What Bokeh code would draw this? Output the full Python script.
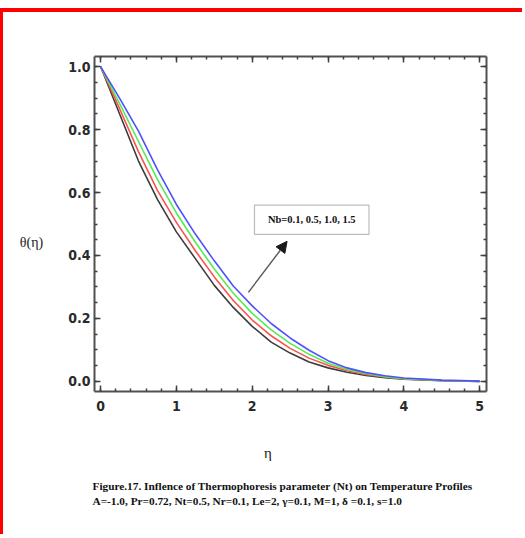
from bokeh.plotting import figure
from bokeh.models import (Range1d, SingleIntervalTicker, LinearAxis, PrintfTickFormatter,
                          CustomJSTickFormatter, Label, Arrow, NormalHead, BoxAnnotation, Title)
from bokeh.embed import file_html
from bokeh.resources import INLINE

# ---- data ----
eta = [0.0, 0.25, 0.5, 0.75, 1.0, 1.25, 1.5, 1.75, 2.0, 2.25, 2.5, 2.75, 3.0, 3.25, 3.5, 3.75, 4.0, 4.5, 5.0]
theta_nb01 = [1.0, 0.85, 0.70, 0.578, 0.475, 0.39, 0.305, 0.235, 0.175, 0.125, 0.09, 0.062, 0.043, 0.029, 0.019, 0.012, 0.007, 0.002, 0.0]
theta_nb05 = [1.0, 0.867, 0.73, 0.607, 0.505, 0.415, 0.332, 0.257, 0.195, 0.145, 0.105, 0.074, 0.051, 0.034, 0.022, 0.014, 0.008, 0.003, 0.0]
theta_nb10 = [1.0, 0.883, 0.762, 0.642, 0.535, 0.442, 0.357, 0.28, 0.216, 0.164, 0.121, 0.086, 0.058, 0.038, 0.025, 0.015, 0.009, 0.003, 0.0]
theta_nb15 = [1.0, 0.90, 0.795, 0.673, 0.562, 0.468, 0.383, 0.303, 0.24, 0.184, 0.138, 0.099, 0.066, 0.043, 0.028, 0.018, 0.011, 0.004, 0.001]
series = [theta_nb01, theta_nb05, theta_nb10, theta_nb15]
colors = ["#3c3c3c", "#ff5050", "#50ee50", "#5050ff"]

x_ticks_interval = 1
y_ticks_interval = 0.2
xlabel = "η"
ylabel = "θ(η)"
annot = "Nb=0.1, 0.5, 1.0, 1.5"
cap1 = "Figure.17. Inflence  of Thermophoresis parameter (Nt) on Temperature Profiles"
cap2 = "A=-1.0, Pr=0.72, Nt=0.5, Nr=0.1, Le=2, γ=0.1, M=1, δ =0.1, s=1.0"

TICKFONT = "DejaVu Sans Condensed"
SERIF = "Liberation Serif"

p = figure(width=522, height=526, output_backend="svg", toolbar_location=None,
           x_range=Range1d(-0.08, 5.09), y_range=Range1d(-0.032, 1.032),
           x_axis_location=None, y_axis_location=None,
           min_border_left=91, min_border_right=39, min_border_top=44, min_border_bottom=147)
p.styles = {"border-top": "4px solid red", "border-left": "3px solid red", "margin-top": "8px"}
p.grid.visible = False
p.outline_line_color = None
p.background_fill_color = "white"
p.border_fill_color = "white"

def style(ax, labels):
    ax.axis_line_color = "#505050"
    ax.axis_line_width = 2
    ax.major_tick_in = 6
    ax.major_tick_out = 0
    ax.minor_tick_in = 3
    ax.minor_tick_out = 0
    ax.major_tick_line_color = "#404040"
    ax.minor_tick_line_color = "#404040"
    ax.major_tick_line_width = 1.5
    ax.minor_tick_line_width = 1.5
    ax.major_label_text_font = TICKFONT
    ax.major_label_text_font_style = "bold"
    ax.major_label_text_font_size = "14px"
    ax.major_label_text_color = "#2a2a2a"
    if not labels:
        ax.formatter = CustomJSTickFormatter(code="return ''")

NBSP = "\u00a0"
xb = LinearAxis(ticker=SingleIntervalTicker(interval=x_ticks_interval, num_minor_ticks=5),
                formatter=PrintfTickFormatter(format="%d"), major_label_standoff=9,
                axis_label=xlabel + NBSP * 12, axis_label_standoff=31, axis_label_text_font=SERIF,
                axis_label_text_font_style="normal", axis_label_text_font_size="15px",
                axis_label_text_color="#222")
style(xb, True)
p.add_layout(xb, "below")
xt = LinearAxis(ticker=SingleIntervalTicker(interval=x_ticks_interval, num_minor_ticks=5))
style(xt, False)
p.add_layout(xt, "above")
yl = LinearAxis(ticker=SingleIntervalTicker(interval=y_ticks_interval, num_minor_ticks=4),
                formatter=PrintfTickFormatter(format="%.1f"), major_label_standoff=4,
                axis_label="\n\n" + ylabel, axis_label_orientation="horizontal", axis_label_standoff=22,
                axis_label_text_font=SERIF, axis_label_text_font_style="normal",
                axis_label_text_font_size="14px", axis_label_text_color="#222")
style(yl, True)
p.add_layout(yl, "left")
yr = LinearAxis(ticker=SingleIntervalTicker(interval=y_ticks_interval, num_minor_ticks=4))
style(yr, False)
p.add_layout(yr, "right")

for ys, c in zip(series, colors):
    p.line(eta, ys, line_color=c, line_width=1.6)

# annotation box + arrow
box = BoxAnnotation(left=2.03, right=3.54, bottom=0.467, top=0.560, fill_color="white", fill_alpha=1,
                    line_color="#222222", line_width=1.2)
p.add_layout(box)
p.add_layout(Label(x=2.785, y=0.513, text=annot, text_font=SERIF, text_font_style="bold",
                   text_font_size="10.5px", text_align="center", text_baseline="middle", text_color="#111"))
p.add_layout(Arrow(end=NormalHead(size=11, fill_color="#1a1a1a", line_color="#1a1a1a"),
                   x_start=1.95, y_start=0.283, x_end=2.46, y_end=0.445,
                   line_color="#555555", line_width=1.4))

# caption
p.add_layout(Title(text=cap1 + "\n" + cap2, align="left", offset=-2, standoff=28, text_font=SERIF,
                   text_font_style="bold", text_font_size="11.3px", text_line_height=1.25,
                   text_color="#111"), "below")

open("out.html", "w").write(file_html(p, INLINE))
